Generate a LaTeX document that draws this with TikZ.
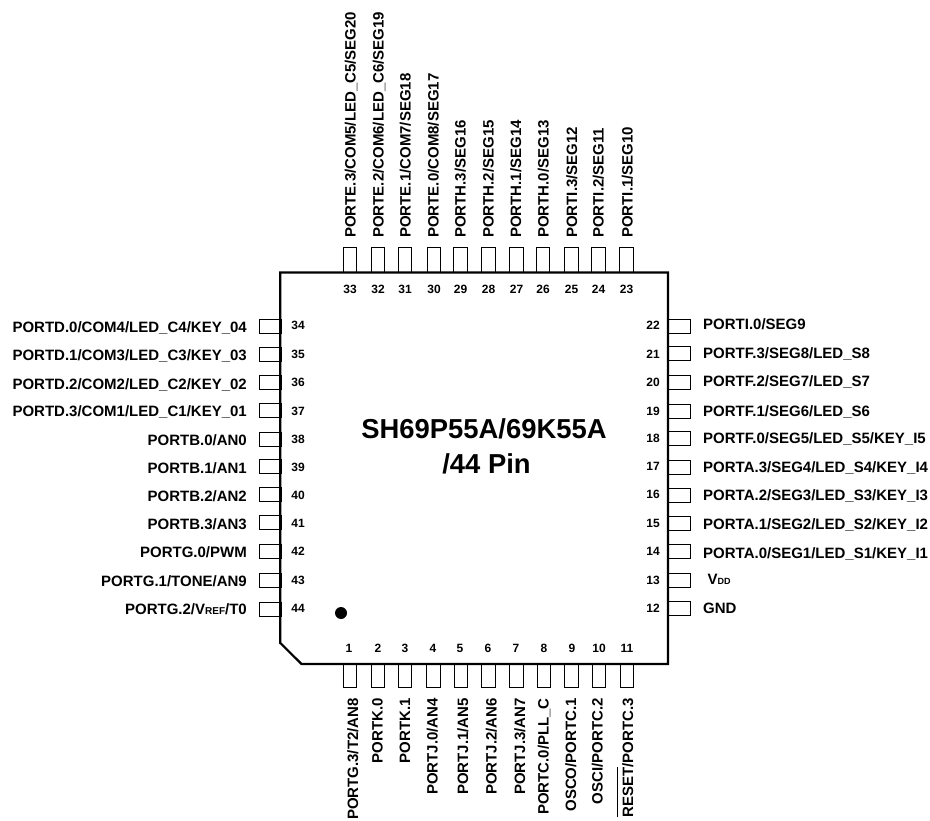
\documentclass[tikz,border=0pt]{standalone}
\usepackage{fontspec}
\setmainfont{Liberation Sans}[BoldFont={Liberation Sans Bold}]
\newcommand{\subsm}[2][10]{{\fontsize{#1}{#1}\selectfont #2}}
\newcommand{\barred}[1]{\setbox0=\hbox{#1}\rlap{\smash{\rule[15.4pt]{\wd0}{0.9pt}}}#1}
\tikzset{
  x=1pt,y=-1pt,
  pinh/.style={draw=black,line width=0.9pt,minimum width=22pt,minimum height=14pt,inner sep=0pt,outer sep=0pt},
  pinv/.style={draw=black,line width=0.9pt,minimum width=13.5pt,minimum height=23pt,inner sep=0pt,outer sep=0pt},
  lbl/.style={font=\fontsize{15}{15}\selectfont\bfseries,inner sep=0pt,text=black},
  num/.style={font=\fontsize{12}{12}\selectfont\bfseries,inner sep=0pt,text=black},
  ttl/.style={font=\fontsize{27.4}{27.4}\selectfont\bfseries,inner sep=0pt,text=black,anchor=base},
}
\begin{document}
\begin{tikzpicture}
\useasboundingbox (0,0) rectangle (930,821);
% left pins
\foreach \n/\py/\by/\ny/\t in {
 34/326/333/325/{PORTD.0/COM4/LED\_C4/KEY\_04},
 35/354/361/354/{PORTD.1/COM3/LED\_C3/KEY\_03},
 36/382/389/382/{PORTD.2/COM2/LED\_C2/KEY\_02},
 37/410.5/417/411/{PORTD.3/COM1/LED\_C1/KEY\_01},
 38/439/445/439/{PORTB.0/AN0},
 39/466.5/473/467/{PORTB.1/AN1},
 40/494.5/501/495/{PORTB.2/AN2},
 41/522.5/529/523/{PORTB.3/AN3},
 42/551.5/557/551/{PORTG.0/PWM},
 43/580/586/580/{PORTG.1/TONE/AN9},
 44/609/614/608/{PORTG.2/V\subsm{REF}/T0}}{
  \node[pinh] (p\n) at (270,\py) {};
  \node[lbl,anchor=base east] (l\n) at (247,\by) {\t};
  \node[num] (n\n) at (298,\ny) {\n};
}
% right pins
\foreach \n/\py/\by/\ny/\t in {
 22/326/330/325/{PORTI.0/SEG9},
 21/353.5/359/354/{PORTF.3/SEG8/LED\_S8},
 20/382/387/382/{PORTF.2/SEG7/LED\_S7},
 19/411/416/411/{PORTF.1/SEG6/LED\_S6},
 18/438.5/443/438.5/{PORTF.0/SEG5/LED\_S5/KEY\_I5},
 17/467/472/466/{PORTA.3/SEG4/LED\_S4/KEY\_I4},
 16/495/500/494.5/{PORTA.2/SEG3/LED\_S3/KEY\_I3},
 15/523.5/529/523/{PORTA.1/SEG2/LED\_S2/KEY\_I2},
 14/551.5/558/551/{PORTA.0/SEG1/LED\_S1/KEY\_I1},
 12/608.5/613/608/{GND}}{
  \node[pinh] (p\n) at (679,\py) {};
  \node[lbl,anchor=base west] (l\n) at (703,\by) {\t};
  \node[num] (n\n) at (653,\ny) {\n};
}
\node[pinh] (p13) at (679,580) {};
\node[lbl,anchor=base west] (l13) at (707.5,584) {V\subsm[9]{DD}};
\node[num] (n13) at (653,580) {13};
% top pins
\foreach \n/\x/\lx/\t in {
 33/350/350/{PORTE.3/COM5/LED\_C5/SEG20},
 32/378/378/{PORTE.2/COM6/LED\_C6/SEG19},
 31/405/405/{PORTE.1/COM7/SEG18},
 30/434/433/{PORTE.0/COM8/SEG17},
 29/460.5/460/{PORTH.3/SEG16},
 28/488.5/488/{PORTH.2/SEG15},
 27/516.5/515.5/{PORTH.1/SEG14},
 26/543/543/{PORTH.0/SEG13},
 25/571.5/571.5/{PORTI.3/SEG12},
 24/598.5/598/{PORTI.2/SEG11},
 23/626.5/627/{PORTI.1/SEG10}}{
  \node[pinv,minimum height=24.5pt] (p\n) at (\x,260) {};
  \node[lbl,rotate=90,anchor=base west] (l\n) at (\lx+5.5,238) {\t};
  \node[num] (n\n) at (\x,289) {\n};
}
% bottom pins
\foreach \n/\x/\lx/\nx/\t in {
 1/350/358/349/{PORTG.3/T2/AN8},
 2/378/382.7/378/{PORTK.0},
 3/405/410/405/{PORTK.1},
 4/433.5/437.7/433/{PORTJ.0/AN4},
 5/461/468/460/{PORTJ.1/AN5},
 6/488.5/496.7/488/{PORTJ.2/AN6},
 7/516.5/525/516/{PORTJ.3/AN7},
 8/544/548.5/544/{PORTC.0/PLL\_C},
 9/571.5/576/572/{OSCO/PORTC.1},
 10/599/602.7/599/{OSCI/PORTC.2},
 11/627/633/627/{\barred{RESET}/PORTC.3}}{
  \node[pinv] (p\n) at (\x,675.5) {};
  \node[lbl,rotate=90,anchor=base east] (l\n) at (\lx,698) {\t};
  \node[num] (n\n) at (\nx,648) {\n};
}
% chip body
\draw[line width=2.2pt,line join=miter] (280.3,272.5) -- (668,272.5) -- (668,664) -- (301.5,664) -- (280.3,643) -- cycle;
\fill[black] (341,613) circle (6);
\node[ttl] (t1) at (484,438) {SH69P55A/69K55A};
\node[ttl] (t2) at (486.5,473) {/44 Pin};
\end{tikzpicture}
\end{document}
